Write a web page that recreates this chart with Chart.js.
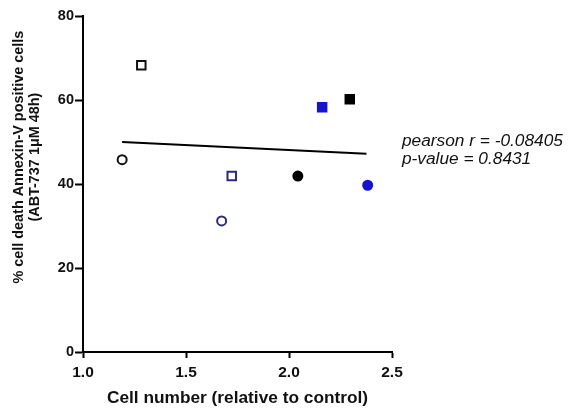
<!DOCTYPE html>
<html>
<head>
<meta charset="utf-8">
<script src="https://cdn.jsdelivr.net/npm/chart.js@4.4.1/dist/chart.umd.min.js"></script>
<style>
  html, body { margin: 0; padding: 0; background: #fff; }
  #wrap { width: 568px; height: 408px; }
</style>
</head>
<body>
<div id="wrap"><canvas id="c" width="568" height="408"></canvas></div>
<script>
// values
const cellNumber = [1.19, 1.283, 1.673, 1.722, 2.043, 2.161, 2.295, 2.382];
const cellDeath  = [45.8, 68.3, 31.2, 41.9, 41.9, 58.3, 60.2, 39.7];
const markerShape = ['circle', 'rect', 'circle', 'rect', 'circle', 'rect', 'rect', 'circle'];
const markerFill  = ['#ffffff', '#ffffff', '#ffffff', '#ffffff', '#000000', '#1414d2', '#000000', '#1414d2'];
const markerEdge  = ['#111111', '#111111', '#2a2a80', '#2a2a80', '#000000', '#1414d2', '#000000', '#1414d2'];

const fitX = [1.19, 2.376];
const fitY = [50.0, 47.2];

const xTicks = [1.0, 1.5, 2.0, 2.5];
const yTicks = [0, 20, 40, 60, 80];

const yTitle = ['% cell death Annexin-V positive cells', '(ABT-737 1\u03bcM 48h)'];
const xTitle = 'Cell number (relative to control)';
const statLines = ['pearson r = -0.08405', 'p-value = 0.8431'];

const FONT = "'Liberation Sans', Arial, sans-serif";

const textPlugin = {
  id: 'textPlugin',
  afterDraw(chart) {
    const ctx = chart.ctx, a = chart.chartArea;
    ctx.save();
    ctx.fillStyle = '#111';
    // y title, two rotated lines
    ctx.font = 'bold 14.4px ' + FONT;
    ctx.textAlign = 'center';
    ctx.textBaseline = 'middle';
    const cy = a.top + (a.bottom - a.top) * 0.42;
    yTitle.forEach((t, i) => {
      ctx.save();
      ctx.translate(19 + i * 16, cy);
      ctx.rotate(-Math.PI / 2);
      ctx.fillText(t, 0, 0);
      ctx.restore();
    });
    // x title
    ctx.font = 'bold 17.3px ' + FONT;
    ctx.fillText(xTitle, (a.left + a.right) / 2, a.bottom + 46);
    // stats
    ctx.font = 'italic 17.3px ' + FONT;
    ctx.textAlign = 'left';
    statLines.forEach((t, i) => ctx.fillText(t, a.right + 10, 141 + i * 18));
    ctx.restore();
  }
};

new Chart(document.getElementById('c'), {
  type: 'scatter',
  data: {
    datasets: [
      {
        data: cellNumber.map((x, i) => ({ x, y: cellDeath[i] })),
        pointStyle: markerShape,
        backgroundColor: markerFill,
        borderColor: markerEdge,
        pointBorderWidth: 2,
        pointRadius: markerShape.map(s => s === 'rect' ? 6 : 4.5),
        pointHoverRadius: 0
      },
      {
        type: 'line',
        data: fitX.map((x, i) => ({ x, y: fitY[i] })),
        borderColor: '#000',
        borderWidth: 2,
        pointRadius: 0,
        fill: false
      }
    ]
  },
  options: {
    responsive: false,
    animation: false,
    events: [],
    layout: { padding: { top: 16, right: 176, left: 0, bottom: 0 } },
    plugins: { legend: { display: false }, tooltip: { enabled: false } },
    scales: {
      x: {
        type: 'linear',
        min: 1.0, max: 2.5,
        afterBuildTicks: s => { s.ticks = xTicks.map(v => ({ value: v })); },
        afterFit: s => { s.height = 56; },
        grid: { display: true, drawOnChartArea: false, drawTicks: true, tickLength: 6, tickWidth: 2, color: '#000' },
        border: { display: true, color: '#000', width: 2 },
        ticks: { color: '#111', font: { family: FONT, size: 15.5, weight: 'bold' }, padding: 5, callback: v => v.toFixed(1), maxRotation: 0 }
      },
      y: {
        min: 0, max: 80,
        afterBuildTicks: s => { s.ticks = yTicks.map(v => ({ value: v })); },
        afterFit: s => { s.width = 83; },
        grid: { display: true, drawOnChartArea: false, drawTicks: true, tickLength: 8, tickWidth: 2, color: '#000' },
        border: { display: true, color: '#000', width: 2 },
        ticks: { color: '#111', font: { family: FONT, size: 14.5, weight: 'bold' }, padding: 1 }
      }
    }
  },
  plugins: [textPlugin]
});
</script>
</body>
</html>
